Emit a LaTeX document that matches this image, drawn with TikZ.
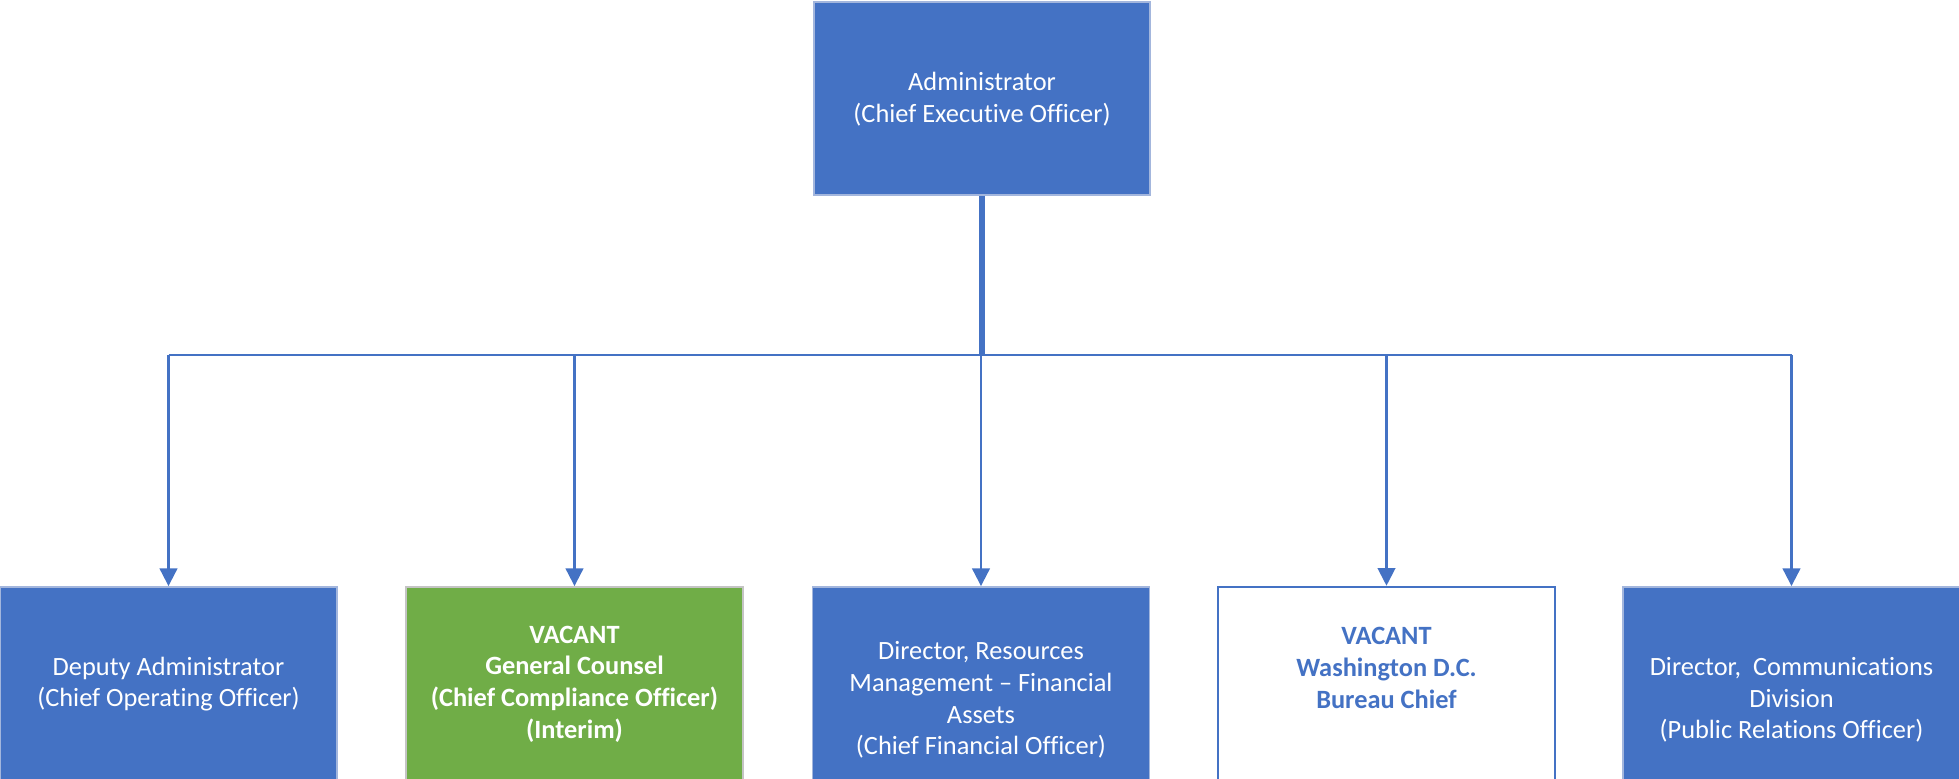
\documentclass[tikz,border=0pt]{standalone}
\usepackage{fontspec}
\setmainfont{Carlito}[Ligatures={TeX,NoCommon}]
\usepackage{xcolor}
\usetikzlibrary{arrows.meta,positioning}
\definecolor{officeblue}{HTML}{4472C4}
\definecolor{officegreen}{HTML}{70AD47}
\definecolor{paleedge}{HTML}{A3B6DD}
\definecolor{greyedge}{HTML}{C4C4C4}
\tikzset{
  post/.style={draw=paleedge,fill=officeblue,line width=0.5pt,
    minimum width=3.37cm,minimum height=1.98cm,inner sep=0pt},
  bluepost/.style={post},
  greenpost/.style={post,fill=officegreen,draw=greyedge},
  openpost/.style={post,fill=white,draw=officeblue,line width=0.7pt},
  caption/.style={align=center,inner sep=0pt,
    font=\fontsize{7.5}{9}\selectfont},
  whitecap/.style={caption,text=white},
  boldcap/.style={caption,text=white,font=\fontsize{7.5}{9}\selectfont\bfseries},
  bluecap/.style={caption,text=officeblue,font=\fontsize{7.5}{9}\selectfont\bfseries},
  trunk/.style={draw=officeblue,line width=1.5pt},
  bus/.style={draw=officeblue,line width=0.6pt},
  link/.style={draw=officeblue,line width=0.6pt,
    -{Triangle[width=5pt,length=5pt]}}
}
\begin{document}
\begin{tikzpicture}[x=0.01cm,y=-0.01cm]
  \useasboundingbox (0,0) rectangle (1959,779);
  % head of the chart
  \node[bluepost,minimum width=3.36cm,minimum height=1.93cm] (admin) at (982,98.5) {};
  \node[whitecap] (admin-t) at (982,99) {Administrator\\(Chief Executive Officer)};
  \coordinate (busL) at (168.5,355);
  \coordinate (busR) at (1791.5,355);
  \coordinate (busM) at (982,355);
  \draw[trunk] (admin.south) -- (busM);
  \draw[bus] (busL) -- (busR);
  \foreach \pname/\px/\pkind in {deputy/168.5/bluepost, counsel/574.5/greenpost,
    finance/981/bluepost, bureau/1386.5/openpost, comms/1791.5/bluepost} {
    \coordinate (\pname-in) at (\px,355);
    \node[\pkind] (\pname) at (\px,686) {};
    \draw[link] (\pname-in) -- (\pname.north);
  }
  \node[whitecap] (deputy-t) at (168.5,684) {Deputy Administrator\\(Chief Operating Officer)};
  \node[boldcap] (counsel-t) at (574.5,684) {VACANT\\General Counsel\\(Chief Compliance Officer)\\(Interim)};
  \node[whitecap] (finance-t) at (981,700) {Director, Resources\\Management -- Financial\\Assets\\(Chief Financial Officer)};
  \node[bluecap] (bureau-t) at (1386.5,668) {VACANT\\Washington D.C.\\Bureau Chief};
  \node[whitecap] (comms-t) at (1791.5,700) {Director,\ \ Communications\\Division\\(Public Relations Officer)};
\end{tikzpicture}
\end{document}
